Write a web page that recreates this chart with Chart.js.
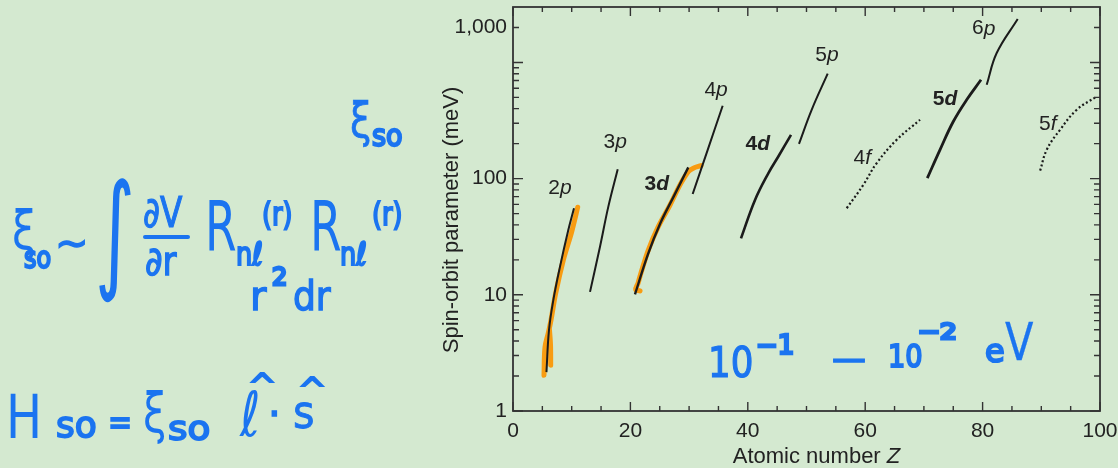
<!DOCTYPE html>
<html>
<head>
<meta charset="utf-8">
<script src="https://cdn.jsdelivr.net/npm/chart.js@4.4.1/dist/chart.umd.min.js"></script>
<style>
  html, body { margin: 0; padding: 0; background: #d4e9d0; }
  #wrap { position: relative; width: 1118px; height: 468px; overflow: hidden; }
  #chart { position: absolute; left: 0; top: 0; }
  #ink { position: absolute; left: 0; top: 0; width: 1118px; height: 468px; pointer-events: none; }
  .ink { position: absolute; color: #1b74f0; font-family: 'DejaVu Sans', sans-serif; font-weight: normal;
         -webkit-text-stroke-color: #1b74f0; line-height: 1; white-space: nowrap; transform-origin: 0 0; }
  .bar { position: absolute; background: #1b74f0; border-radius: 2px; }
</style>
</head>
<body>
<div id="wrap">
  <canvas id="chart" width="1118" height="468"></canvas>
  <div id="ink"></div>
</div>
<script>
'use strict';

// ── data: Z (atomic number) and spin-orbit parameter (meV)
const z2p = [5.7, 6.13, 6.87, 8.0, 9.42, 10.39];
const v2p = [2.16, 4.96, 9.0, 17.4, 36.1, 55.6];
const z3p = [13.12, 14.82, 16.24, 17.84];
const v3p = [10.6, 25.9, 57.4, 120.5];
const z3d = [20.78, 23.0, 25.04, 27.43, 29.86];
const v3d = [10.1, 22.4, 40.7, 71, 125];
const z4p = [30.61, 33.17, 35.72];
const v4p = [73.8, 177, 424];
const z4d = [38.84, 41.23, 43.49, 45.2, 47.36];
const v4d = [30.6, 65.5, 111, 155, 238];
const z5p = [48.72, 50.88, 53.61];
const v5p = [199, 391, 800];
const z4f = [56.85, 59.68, 61.96, 65.37, 69.34];
const v4f = [55.6, 88.3, 136, 216, 321];
const z5d = [70.58, 72.74, 75.01, 77.29, 79.73];
const v5d = [101, 177, 310, 477, 709];
const z6p = [80.7, 82.4, 85.98];
const v6p = [643, 1205, 2366];
const z5f = [89.8, 90.92, 93.19, 96.03, 99.44];
const v5f = [117, 177, 263, 391, 509];

// hand-drawn orange strokes over 2p and 3d
const zHand2pA = [5.28, 5.45, 6.01, 6.47, 7.27, 8.57, 10.0, 11.02];
const vHand2pA = [2.03, 3.54, 4.68, 6.05, 10.3, 19.9, 34.9, 56.7];
const zHand2pB = [6.42, 6.39, 6.22];
const vHand2pB = [2.48, 3.69, 4.96];
const zHand3d = [21.64, 20.9, 21.3, 21.8, 23.05, 24.75, 26.75, 28.45, 29.86, 30.72, 32.03];
const vHand3d = [10.8, 11.1, 12.6, 15.4, 24.3, 38.6, 59.3, 88.3, 115, 123, 129.5];

// shell labels and where they sit (data coords)
const labelText = ['2p', '3p', '3d', '4p', '4d', '5p', '4f', '5d', '6p', '5f'];
const labelZ    = [8.0, 17.4, 24.5, 34.6, 41.7, 53.5, 59.5, 73.6, 80.2, 91.1];
const labelVal  = [80, 199, 86.5, 558, 190, 1119, 145, 468, 1876, 284];

// axis ticks
const xTickLabels = [0, 20, 40, 60, 80, 100];
const yTickValues = [1, 10, 100, 2000];
const yTickLabels = ['1', '10', '100', '1,000'];

const FONT = '"Liberation Sans", Arial, Helvetica, sans-serif';
const TXT = '#222';

const xTicks = [];
for (let v = 0; v <= 100; v += 5) xTicks.push(v);
const yTicks = [];
[1, 10, 100].forEach(d => { for (let k = 1; k <= 9; k++) yTicks.push(k * d); });
yTicks.push(1000, 2000);

function pts(zs, vs) { return zs.map((z, i) => ({ x: z, y: vs[i] })); }

function curve(zs, vs, w, dash) {
  return {
    data: pts(zs, vs), borderColor: '#1b1b1b', borderWidth: w, borderDash: dash || [],
    pointRadius: 0, tension: 0.4, fill: false
  };
}
function hand(zs, vs) {
  return {
    data: pts(zs, vs), borderColor: '#f89c12', borderWidth: 5, pointRadius: 0,
    tension: 0.35, borderCapStyle: 'round', borderJoinStyle: 'round', fill: false
  };
}

// inward tick marks on all four sides, the frame and axis titles
const frameTicks = {
  id: 'frameTicks',
  afterDraw(chart) {
    const { ctx, chartArea: a, scales: { x, y } } = chart;
    ctx.save();
    ctx.strokeStyle = '#333';
    ctx.lineWidth = 1.4;
    ctx.beginPath();
    x.ticks.forEach(t => {
      const px = x.getPixelForValue(t.value);
      const len = t.value % 20 === 0 ? 9 : 5;
      ctx.moveTo(px, a.bottom); ctx.lineTo(px, a.bottom - len);
      ctx.moveTo(px, a.top); ctx.lineTo(px, a.top + len);
    });
    y.ticks.forEach(t => {
      const py = y.getPixelForValue(t.value);
      const lg = Math.log10(t.value);
      const len = Math.abs(lg - Math.round(lg)) < 1e-9 ? 10 : 6;
      ctx.moveTo(a.left, py); ctx.lineTo(a.left + len, py);
      ctx.moveTo(a.right, py); ctx.lineTo(a.right - len, py);
    });
    ctx.stroke();
    ctx.lineWidth = 1.8;
    ctx.strokeRect(a.left, a.top, a.right - a.left, a.bottom - a.top);

    ctx.fillStyle = TXT;
    ctx.textBaseline = 'middle';
    ctx.textAlign = 'left';
    const t1 = 'Atomic number ';
    ctx.font = '22px ' + FONT;
    const w1 = ctx.measureText(t1).width;
    ctx.font = 'italic 22px ' + FONT;
    const w2 = ctx.measureText('Z').width;
    const sx = (a.left + a.right) / 2 + 10 - (w1 + w2) / 2;
    ctx.font = '22px ' + FONT;
    ctx.fillText(t1, sx, 457);
    ctx.font = 'italic 22px ' + FONT;
    ctx.fillText('Z', sx + w1, 457);

    ctx.save();
    ctx.translate(452, (a.top + a.bottom) / 2 + 11);
    ctx.rotate(-Math.PI / 2);
    ctx.textAlign = 'center';
    ctx.font = '22px ' + FONT;
    ctx.fillText('Spin-orbit parameter (meV)', 0, 0);
    ctx.restore();
    ctx.restore();
  }
};

// "2p", "3d" ... labels: digit upright, letter italic, d-shells bold
const shellLabels = {
  id: 'shellLabels',
  afterDatasetsDraw(chart) {
    const { ctx, scales: { x, y } } = chart;
    ctx.save();
    ctx.fillStyle = TXT;
    ctx.textBaseline = 'middle';
    labelText.forEach((t, i) => {
      const px = x.getPixelForValue(labelZ[i]);
      const py = y.getPixelForValue(labelVal[i]);
      const base = (t[1] === 'd' ? 'bold ' : '') + '21px ' + FONT;
      ctx.font = base;
      const w1 = ctx.measureText(t[0]).width;
      ctx.font = 'italic ' + base;
      const w2 = ctx.measureText(t[1]).width;
      const sx = px - (w1 + w2) / 2;
      ctx.font = base;
      ctx.fillText(t[0], sx, py - 2);
      ctx.font = 'italic ' + base;
      ctx.fillText(t[1], sx + w1, py - 2);
    });
    ctx.restore();
  }
};

new Chart(document.getElementById('chart'), {
  type: 'line',
  data: {
    datasets: [
      curve(z2p, v2p, 2),
      curve(z3p, v3p, 2),
      curve(z3d, v3d, 2.4),
      curve(z4p, v4p, 2),
      curve(z4d, v4d, 2.6),
      curve(z5p, v5p, 2),
      curve(z4f, v4f, 2.2, [2, 2.4]),
      curve(z5d, v5d, 2.8),
      curve(z6p, v6p, 2),
      curve(z5f, v5f, 2.2, [2, 2.4]),
      hand(zHand2pA, vHand2pA),
      hand(zHand2pB, vHand2pB),
      hand(zHand3d, vHand3d)
    ]
  },
  options: {
    responsive: false,
    animation: false,
    layout: { padding: { left: 436, top: 7, right: 18, bottom: 0 } },
    plugins: { legend: { display: false }, tooltip: { enabled: false } },
    scales: {
      x: {
        type: 'linear', min: 0, max: 100,
        afterBuildTicks: s => { s.ticks = xTicks.map(v => ({ value: v })); },
        afterFit: s => { s.height = 57; s.paddingLeft = 0; s.paddingRight = 0; },
        grid: { display: false, drawTicks: false },
        border: { display: false },
        ticks: {
          autoSkip: false, maxRotation: 0, padding: 8, color: TXT,
          font: { family: FONT, size: 21 },
          callback: v => xTickLabels.includes(v) ? String(v) : ''
        }
      },
      y: {
        type: 'logarithmic', min: 1, max: 3000,
        afterBuildTicks: s => { s.ticks = yTicks.map(v => ({ value: v })); },
        afterFit: s => { s.width = 77; s.paddingTop = 0; s.paddingBottom = 0; },
        grid: { display: false, drawTicks: false },
        border: { display: false },
        ticks: {
          autoSkip: false, padding: 6, color: TXT,
          font: { family: FONT, size: 21 },
          callback: v => {
            const i = yTickValues.indexOf(v);
            return i < 0 ? '' : yTickLabels[i];
          }
        }
      }
    }
  },
  plugins: [frameTicks, shellLabels]
});

// ── blue handwritten notes: [text, left, baseline, size, xScale]
const inkPieces = [
  ['ξ', 350, 137, 48, 0.8], ['so', 372, 146, 30, 0.9],
  ['ξ', 12, 250, 54, 0.8], ['so', 24, 268, 30, 0.8], ['~', 55, 257, 40, 1],
  ['∫', 95, 276, 128, 0.6],
  ['∂V', 143, 228, 42, 0.78], ['∂r', 145, 275, 40, 0.85],
  ['R', 205, 250, 70, 0.65], ['nℓ', 236, 265, 32, 0.8], ['(r)', 262, 225, 32, 0.8],
  ['R', 310, 250, 70, 0.65], ['nℓ', 340, 265, 32, 0.8], ['(r)', 372, 225, 32, 0.8],
  ['r', 250, 310, 40, 1], ['2', 272, 285, 24, 1], ['dr', 293, 310, 40, 0.9],
  ['H', 6, 438, 60, 0.8], ['so', 56, 438, 36, 1], ['=', 108, 435, 36, 0.8],
  ['ξ', 143, 433, 56, 0.75], ['so', 168, 440, 34, 1.1],
  ['ℓ', 240, 437, 62, 0.8], ['^', 248, 398, 34, 1], ['·', 268, 428, 40, 1],
  ['s', 293, 428, 46, 0.9], ['^', 298, 402, 34, 1],
  ['10', 708, 378, 42, 0.85], ['−1', 756, 354, 26, 1], ['—', 832, 372, 40, 0.85],
  ['10', 888, 367, 32, 0.85], ['−2', 918, 340, 22, 1.2],
  ['e', 985, 362, 32, 1], ['V', 1005, 360, 52, 0.8]
];
const ink = document.getElementById('ink');
inkPieces.forEach(([t, x, b, s, k]) => {
  const el = document.createElement('span');
  el.className = 'ink';
  el.textContent = t;
  el.style.left = x + 'px';
  el.style.top = (b - 0.85 * s) + 'px';
  el.style.fontSize = s + 'px';
  // even pen width: thin glyphs get a thicker outline
  el.style.webkitTextStrokeWidth = Math.max(0, 5 - 0.09 * s).toFixed(1) + 'px';
  el.style.transform = 'scaleX(' + k + ')';
  ink.appendChild(el);
});
const bar = document.createElement('div');
bar.className = 'bar';
Object.assign(bar.style, { left: '143px', top: '235px', width: '47px', height: '4px' });
ink.appendChild(bar);
</script>
</body>
</html>
